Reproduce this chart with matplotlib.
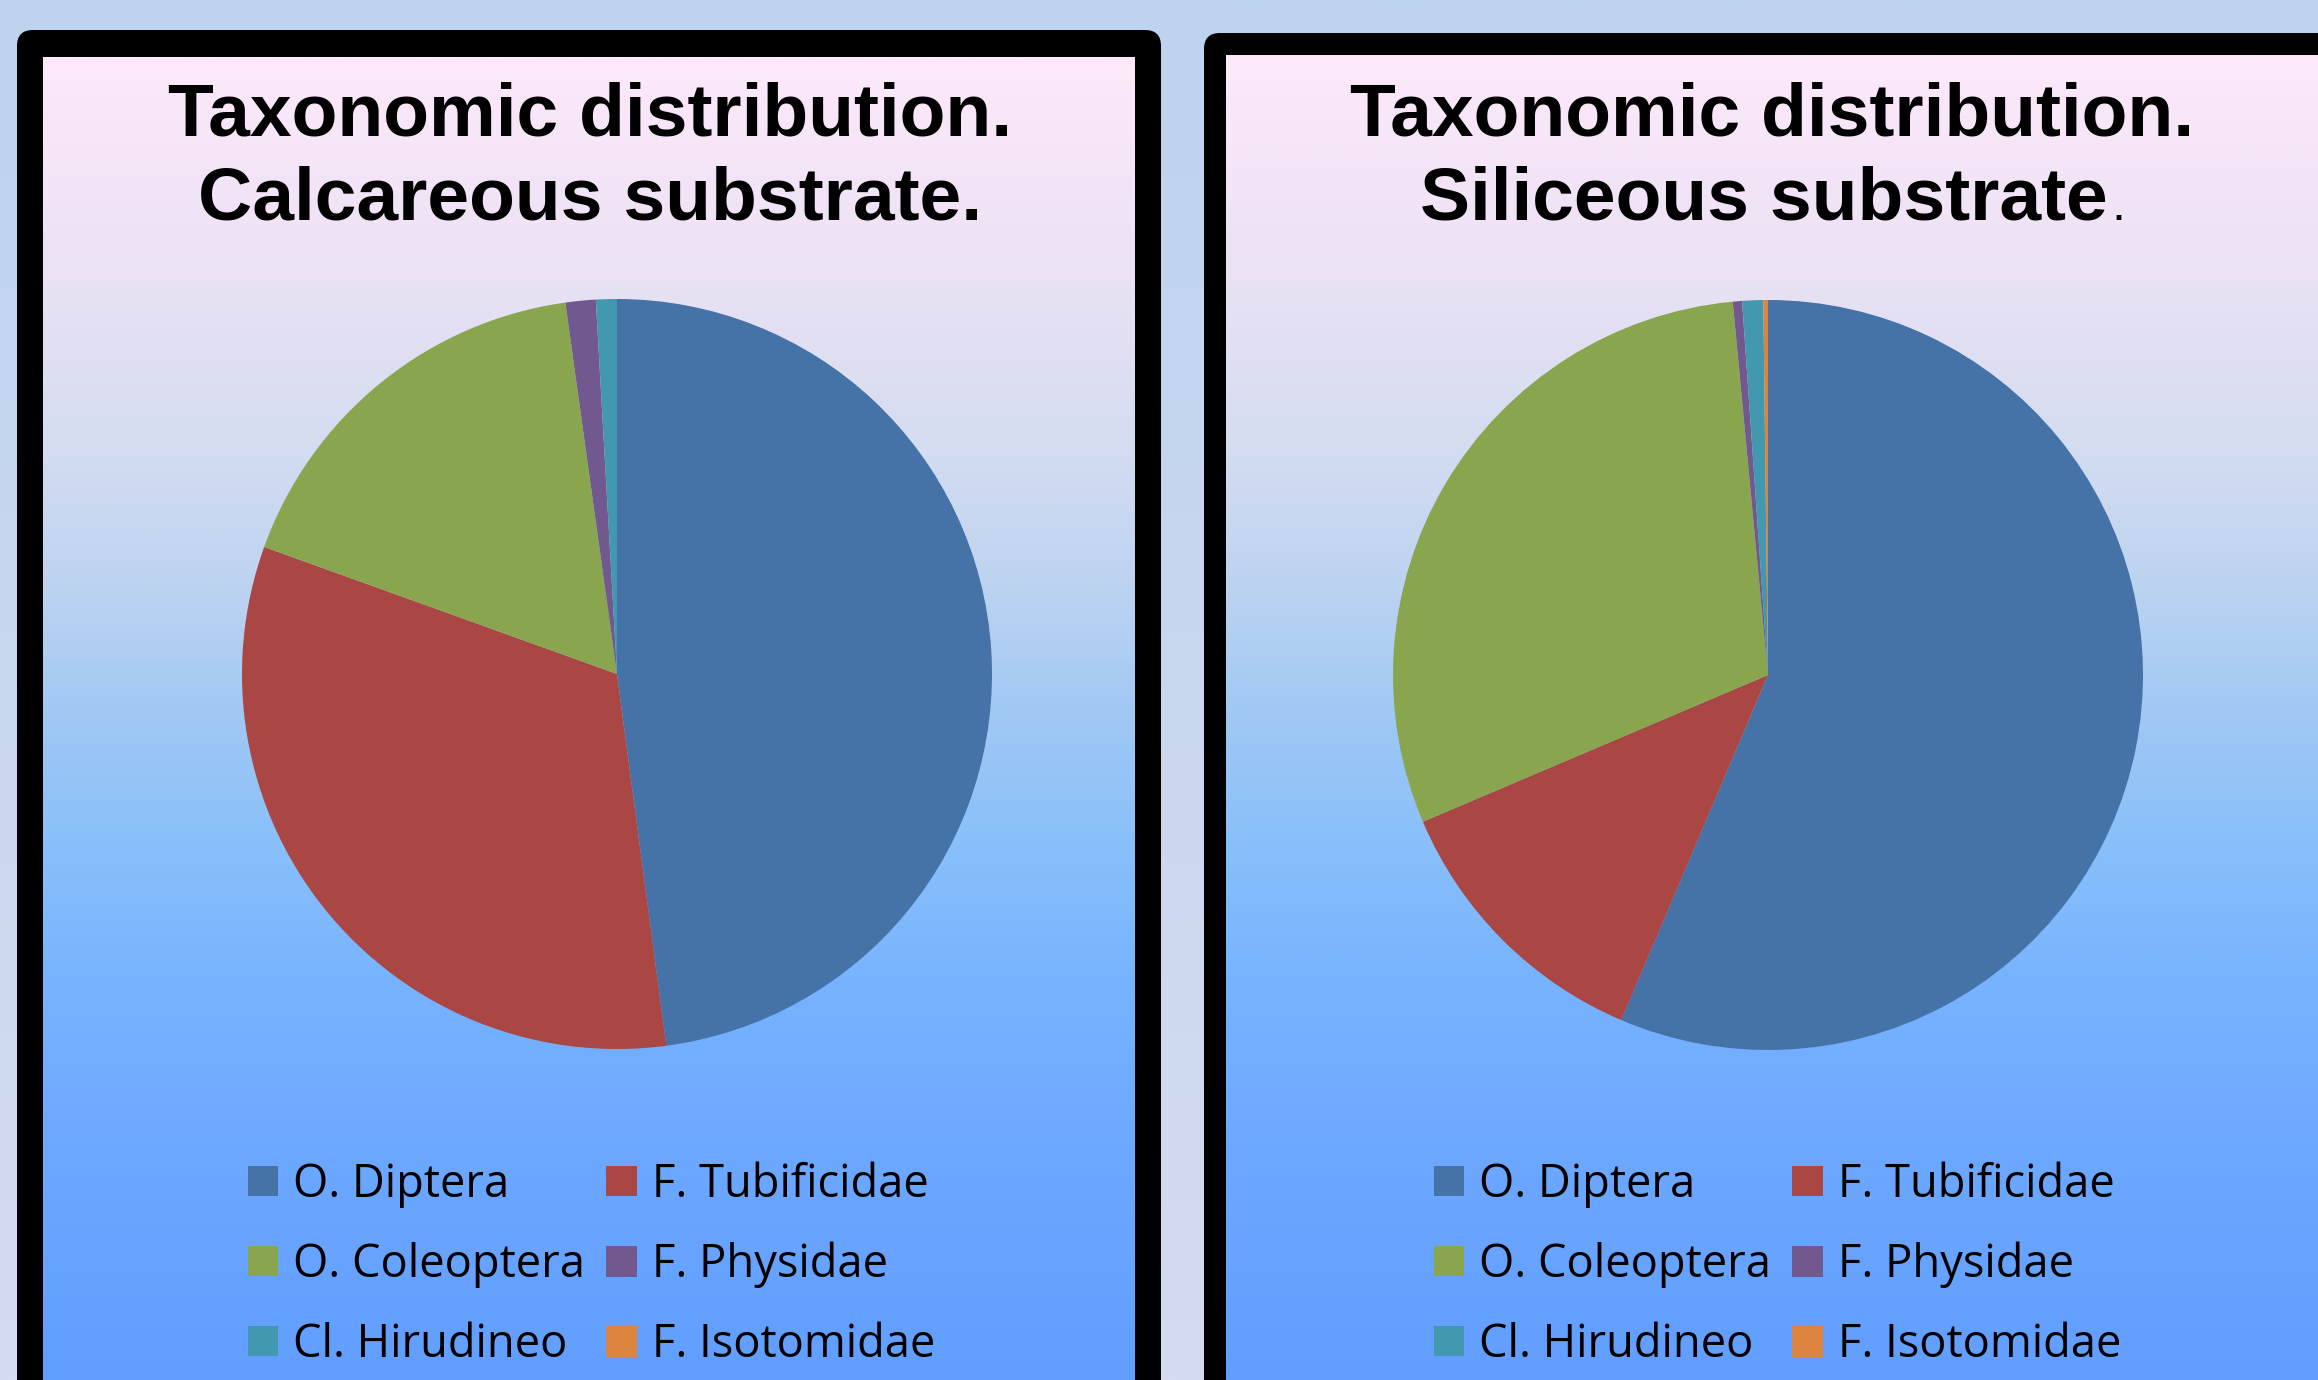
import matplotlib
matplotlib.use("Agg")
import matplotlib.pyplot as plt
import numpy as np
from matplotlib.colors import LinearSegmentedColormap, to_rgb
from matplotlib.patches import FancyBboxPatch, Patch

# data (percent of individuals)
taxa = ["O. Diptera", "F. Tubificidae", "O. Coleoptera",
        "F. Physidae", "Cl. Hirudineo", "F. Isotomidae"]
calcareous = [47.9, 32.6, 17.3, 1.3, 0.9, 0.0]
siliceous = [56.4, 12.2, 29.9, 0.4, 0.9, 0.2]
slice_colors = ["#4572A7", "#AA4643", "#89A54E", "#71588F", "#4198AF", "#DB843D"]

titles = [("Taxonomic distribution.", "Calcareous substrate."),
          ("Taxonomic distribution.", "Siliceous substrate")]

W, H = 2318, 1380
fig = plt.figure(figsize=(W / 100, H / 100), dpi=100)

# background layer in pixel coordinates
bg = fig.add_axes([0, 0, 1, 1])
bg.set_axis_off()

page = LinearSegmentedColormap.from_list("page", ["#bdd3ee", "#d5dbf0"])
bg.imshow(page(np.linspace(0, 1, 256))[:, None, :3], extent=(0, W, H, 0),
          aspect="auto", interpolation="bilinear", zorder=0)

panel_cmap = LinearSegmentedColormap.from_list("panel", [
    (0.0, "#fde9fa"), (0.15, "#ece2f5"), (0.3, "#d3dcf0"), (0.4, "#bcd3f0"),
    (0.5, "#a0c8f4"), (0.6, "#88bffa"), (0.7, "#77b3ff"), (0.85, "#6ba6ff"),
    (1.0, "#619eff")])

# (outer box, inner box) for both frames: x0, y0, x1, y1 in pixels
frames = [((17, 30, 1161, 1440), (43, 57, 1135, 1440)),
          ((1204, 33, 2360, 1440), (1226, 55, 2330, 1440))]
for outer, inner in frames:
    ox0, oy0, ox1, oy1 = outer
    bg.add_patch(FancyBboxPatch((ox0, oy0), ox1 - ox0, oy1 - oy0,
                                boxstyle="round,pad=0,rounding_size=16",
                                facecolor="black", edgecolor="none", zorder=1))
    ix0, iy0, ix1, iy1 = inner
    grad = panel_cmap(np.linspace(0, (iy1 - iy0) / (H - iy0), 512))[:, None, :3]
    bg.imshow(grad, extent=(ix0, ix1, iy1, iy0), aspect="auto",
              interpolation="bilinear", zorder=2)
bg.set_xlim(0, W)
bg.set_ylim(H, 0)

# titles
title_x = [590, 1772]
for (l1, l2), tx in zip(titles, title_x):
    bg.text(tx, 135, l1, ha="center", va="baseline", fontsize=54,
            fontweight="bold", family="Liberation Sans", zorder=5)
line2 = []
for (l1, l2), tx in zip(titles, [590, 1764]):
    line2.append(bg.text(tx, 220, l2, ha="center", va="baseline", fontsize=54,
                         fontweight="bold", family="Liberation Sans", zorder=5))

# pies
pie_centers = [(617, 674), (1768, 675)]
radius = 375
for vals, (cx, cy) in zip([calcareous, siliceous], pie_centers):
    ax = fig.add_axes([(cx - radius) / W, 1 - (cy + radius) / H,
                       2 * radius / W, 2 * radius / H])
    ax.pie(vals, colors=slice_colors, startangle=90, counterclock=False,
           wedgeprops=dict(linewidth=0))
    ax.set_xlim(-1, 1)
    ax.set_ylim(-1, 1)
    ax.set_axis_off()

# legends, two columns filled column-wise
order = [0, 2, 4, 1, 3, 5]
handles = [Patch(facecolor=c, edgecolor="none") for c in slice_colors]
for lx in [248, 1434]:
    fig.legend([handles[i] for i in order], [taxa[i] for i in order],
               ncol=2, loc="upper left", bbox_to_anchor=(lx / W, 1 - 1162 / H),
               bbox_transform=fig.transFigure, frameon=False,
               prop={"family": "Open Sans", "size": 32.6},
               handlelength=0.667, handleheight=0.667, handletextpad=0.33,
               columnspacing=0.47, labelspacing=0.75, borderpad=0,
               borderaxespad=0)

# small, non-bold period after the second title line on the right
fig.canvas.draw()
ext = line2[1].get_window_extent()
x_end = bg.transData.inverted().transform((ext.x1, ext.y0))[0]
bg.text(x_end + 3, 220, ".", ha="left", va="baseline", fontsize=36,
        family="Liberation Sans", zorder=5)

fig.savefig("out.png", dpi=100)
